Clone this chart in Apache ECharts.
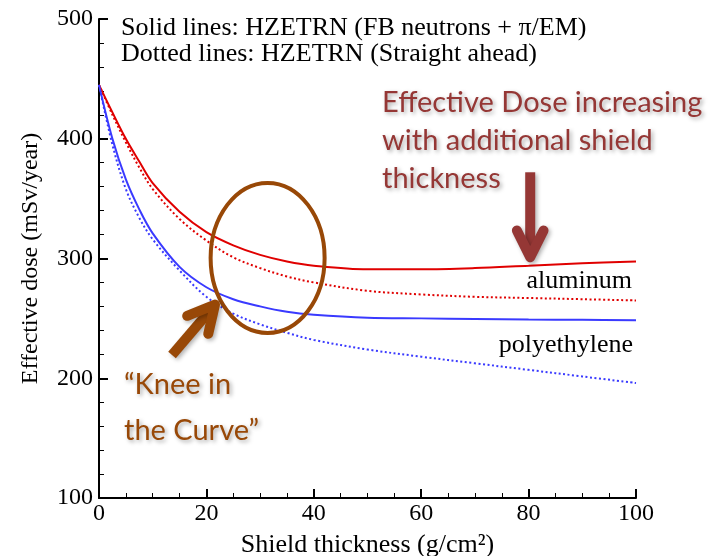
<!DOCTYPE html>
<html><head><meta charset="utf-8">
<script src="https://cdn.jsdelivr.net/npm/echarts@6/dist/echarts.min.js"></script>
<style>html,body{margin:0;padding:0;background:#fff}#c{width:713px;height:556px}</style>
</head><body><div id="c"></div>
<script>
const thickness = [0, 2.5, 5, 7.5, 10, 15, 20, 25, 30, 35, 40, 50, 60, 70, 80, 90, 100];
const alSolid   = [445, 422, 400, 381, 363, 339, 322, 311, 303, 297.5, 294, 291, 291, 292, 294, 296, 297.5];
const alDotted  = [445, 420, 397, 376, 358, 333, 315, 301, 292, 285, 280, 273, 270, 268, 267, 266, 265];
const peSolid   = [445, 400, 366, 341, 321, 293, 276, 266, 260, 255.5, 253, 250.5, 250, 249.5, 249, 248.8, 248.5];
const peDotted  = [445, 395, 358, 334, 316, 290, 268, 254, 245, 238, 232, 224, 218, 212.5, 207, 201.5, 196];
const yTicks = [100, 200, 300, 400, 500];
const xTicks = [0, 20, 40, 60, 80, 100];

const pair = (ys) => thickness.map((x, i) => [x, ys[i]]);
const serif = 'Liberation Serif';
const RED = '#e00000', BLUE = '#3a3aff';
const chart = echarts.init(document.getElementById('c'));

const axisCommon = {
  axisLine: {show: true, onZero: false, lineStyle: {color: '#000', width: 2}},
  axisTick: {show: true, inside: true, length: 9, lineStyle: {color: '#000', width: 2}},
  minorTick: {show: true, length: 5, lineStyle: {color: '#000', width: 1}},
  splitLine: {show: false},
  axisLabel: {color: '#000', fontFamily: serif, fontSize: 24}
};

function line(data, color, dotted) {
  return {
    type: 'line', data: pair(data), smooth: 0.35, symbol: 'none',
    lineStyle: {color: color, width: 2, type: dotted ? [2, 2.5] : 'solid'},
    z: 3
  };
}

chart.setOption({
  animation: false,
  grid: {left: 99, right: 77, top: 19, bottom: 58, containLabel: false, outerBoundsMode: 'none'},
  xAxis: Object.assign({}, axisCommon, {
    type: 'value', min: xTicks[0], max: xTicks[xTicks.length - 1], interval: 20,
    minorTick: Object.assign({}, axisCommon.minorTick, {splitNumber: 4}),
    axisLabel: Object.assign({}, axisCommon.axisLabel, {margin: 4}),
    name: 'Shield thickness (g/cm²)', nameLocation: 'middle', nameGap: 34,
    nameTextStyle: {color: '#000', fontFamily: serif, fontSize: 26}
  }),
  yAxis: Object.assign({}, axisCommon, {
    type: 'value', min: yTicks[0], max: yTicks[yTicks.length - 1], interval: 100,
    minorTick: Object.assign({}, axisCommon.minorTick, {splitNumber: 5}),
    axisLabel: Object.assign({}, axisCommon.axisLabel, {margin: 6}),
    name: 'Effective dose (mSv/year)', nameLocation: 'middle', nameGap: 56, nameRotate: 90,
    nameTextStyle: {color: '#000', fontFamily: serif, fontSize: 24}
  }),
  series: [
    line(alSolid, RED, false),
    line(alDotted, RED, true),
    line(peSolid, BLUE, false),
    line(peDotted, BLUE, true)
  ]
});

const P = (x, y) => chart.convertToPixel({gridIndex: 0}, [x, y]);
const DR = '#953735', BR = '#984807';
const calibri = 'Lato';
const shadow = {textShadowColor: 'rgba(0,0,0,0.35)', textShadowBlur: 4, textShadowOffsetX: 2, textShadowOffsetY: 2};
const shapeShadow = {shadowColor: 'rgba(0,0,0,0.3)', shadowBlur: 4, shadowOffsetX: 2, shadowOffsetY: 2};

const ell = P(31.4, 300.5);
const redTip = P(80.3, 301), redTail = P(80.3, 372);
const knTip = P(21.6, 261.5), knTail = P(13.6, 219.5);

function chevron(tip, tail, armLen, armAng) {
  const ang = Math.atan2(tail[1] - tip[1], tail[0] - tip[0]);
  const a1 = ang + armAng, a2 = ang - armAng;
  return [[tip[0] + armLen * Math.cos(a1), tip[1] + armLen * Math.sin(a1)], tip,
          [tip[0] + armLen * Math.cos(a2), tip[1] + armLen * Math.sin(a2)]];
}
function shaftEnd(tip, tail, back) {
  const ang = Math.atan2(tail[1] - tip[1], tail[0] - tip[0]);
  return [tip[0] + back * Math.cos(ang), tip[1] + back * Math.sin(ang)];
}

const alLab = P(100, 291.6), peLab = P(100, 238.2);

chart.setOption({
  graphic: [
    {type: 'text', left: 121, top: 15, style: {text: 'Solid lines: HZETRN (FB neutrons + π/EM)', fontFamily: serif, fontSize: 26, fill: '#000'}},
    {type: 'text', left: 121, top: 41, style: {text: 'Dotted lines: HZETRN (Straight ahead)', fontFamily: serif, fontSize: 26, fill: '#000'}},
    {type: 'text', x: alLab[0] - 4, y: alLab[1], style: {text: 'aluminum', fontFamily: serif, fontSize: 26, fill: '#000', align: 'right', verticalAlign: 'top'}},
    {type: 'text', x: peLab[0] - 3, y: peLab[1], style: {text: 'polyethylene', fontFamily: serif, fontSize: 26, fill: '#000', align: 'right', verticalAlign: 'top'}},
    {type: 'text', left: 382, top: 84, style: Object.assign({text: 'Effective Dose increasing\nwith additional shield\nthickness', fontFamily: calibri, fontSize: 29, lineHeight: 38, fill: DR}, shadow)},
    {type: 'text', left: 124, top: 362, style: Object.assign({text: '“Knee in\nthe Curve”', fontFamily: calibri, fontSize: 29, lineHeight: 46, fill: BR}, shadow)},
    {type: 'ellipse', shape: {cx: ell[0], cy: ell[1], rx: 57, ry: 75}, style: {fill: 'none', stroke: BR, lineWidth: 4}, z: 10},
    {type: 'polyline', shape: {points: [redTail, shaftEnd(redTip, redTail, 6)]}, style: Object.assign({stroke: DR, lineWidth: 10}, shapeShadow), z: 10},
    {type: 'polyline', shape: {points: chevron(redTip, redTail, 30, 0.46)}, style: Object.assign({stroke: DR, lineWidth: 10, lineCap: 'round', lineJoin: 'round', fill: 'none'}, shapeShadow), z: 10},
    {type: 'polyline', shape: {points: [knTail, shaftEnd(knTip, knTail, 6)]}, style: Object.assign({stroke: BR, lineWidth: 10}, shapeShadow), z: 10},
    {type: 'polyline', shape: {points: chevron(knTip, knTail, 30, 0.48)}, style: Object.assign({stroke: BR, lineWidth: 10, lineCap: 'round', lineJoin: 'round', fill: 'none'}, shapeShadow), z: 10}
  ]
});
</script></body></html>
